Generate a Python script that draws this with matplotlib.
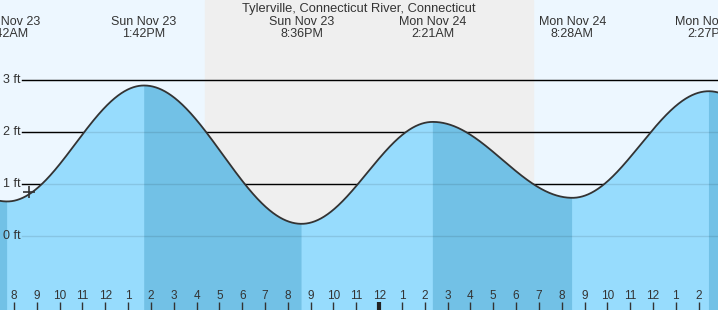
import numpy as np
import matplotlib
matplotlib.use('Agg')
import matplotlib.pyplot as plt

plt.rcParams['font.family'] = ['Liberation Sans', 'DejaVu Sans']

# hours counted from Sun Nov 23 00:00
title = 'Tylerville, Connecticut River, Connecticut'
# tide extremes (first and last are off-chart estimates)
tide_hours = [1.3, 7.7, 13.7, 20.6, 26.35, 32.467, 38.45, 44.8]
tide_heights = [2.6, 0.67, 2.9, 0.24, 2.2, 0.74, 2.79, 0.3]
tide_labels = ['', 'Sun Nov 23\n7:42AM', 'Sun Nov 23\n1:42PM', 'Sun Nov 23\n8:36PM',
               'Mon Nov 24\n2:21AM', 'Mon Nov 24\n8:28AM', 'Mon Nov 24\n2:27PM', '']
sunset = 16.37
sunrise = 30.73
now_hour = 8.67
now_height = 0.85
ft_levels = [0, 1, 2, 3]
hour_ticks = list(range(8, 39))

x0, x1 = 7.386, 38.85
y0, y1 = -1.417, 4.544

sky = '#edf7ff'
night = '#efefef'
water = '#97dcfd'
water_dark = '#72c1e6'
ink = '#333333'


def tide_curve(t):
    # cosine shape between neighbouring high/low points
    h = np.empty_like(t)
    for i in range(len(tide_hours) - 1):
        ta, tb = tide_hours[i], tide_hours[i + 1]
        ha, hb = tide_heights[i], tide_heights[i + 1]
        m = (t >= ta) & (t <= tb)
        h[m] = ha + (hb - ha) * (1 - np.cos(np.pi * (t[m] - ta) / (tb - ta))) / 2
    return h


fig = plt.figure(figsize=(7.18, 3.10), dpi=100)
ax = fig.add_axes([0, 0, 1, 1])
ax.set_xlim(x0, x1)
ax.set_ylim(y0, y1)
ax.axis('off')

ax.axvspan(x0, x1, color=sky, zorder=0)
ax.axvspan(sunset, sunrise, color=night, zorder=0)

gx = 22 / 718
for lv in ft_levels:
    ax.axhline(lv, xmin=gx, color='black', lw=1, zorder=1)
    ax.text(x0 + 3 / 22.82, lv, f'{lv} ft', ha='left', va='center',
            fontsize=9, color=ink, zorder=5)

t = np.linspace(x0 - 0.1, x1 + 0.1, 3000)
h = tide_curve(t)
falling = np.zeros_like(t, dtype=bool)
for i in range(len(tide_hours) - 1):
    if tide_heights[i] > tide_heights[i + 1]:
        falling |= (t >= tide_hours[i]) & (t <= tide_hours[i + 1])

ax.fill_between(t, y0, h, color=water, lw=0, zorder=2)
ax.fill_between(t, y0, h, where=falling, color=water_dark, lw=0, zorder=2)
for lv in ft_levels:
    ax.axhline(lv, xmin=gx, color='black', lw=1, alpha=0.1, zorder=3)
ax.plot(t, h, color=ink, lw=1.3, zorder=4)

ax.plot(now_hour, now_height, marker='+', ms=9, mew=1.2, color=ink, zorder=5)

# extreme labels along the top
ax.text((x0 + x1) / 2, y1 - 8.5 / 52, title, ha='center', va='center',
        fontsize=9.3, color=ink, zorder=6)
for th, lab in zip(tide_hours, tide_labels):
    if lab:
        ax.text(th, y1 - 27.5 / 52, lab, ha='center', va='center', fontsize=9,
                color=ink, linespacing=1.0, zorder=6)

# hour ticks along the bottom
for hr in hour_ticks:
    clock = hr % 12 or 12
    lw = 3 if hr % 24 == 0 else 1
    ax.plot([hr, hr], [y0, y0 + 8 / 52], color=ink if lw == 1 else '#222222',
            lw=lw, solid_capstyle='butt', zorder=5)
    ax.text(hr, y0 + 14 / 52, str(clock), ha='center', va='center',
            fontsize=8.5, color=ink, zorder=5)

fig.savefig('out.png', dpi=100)
